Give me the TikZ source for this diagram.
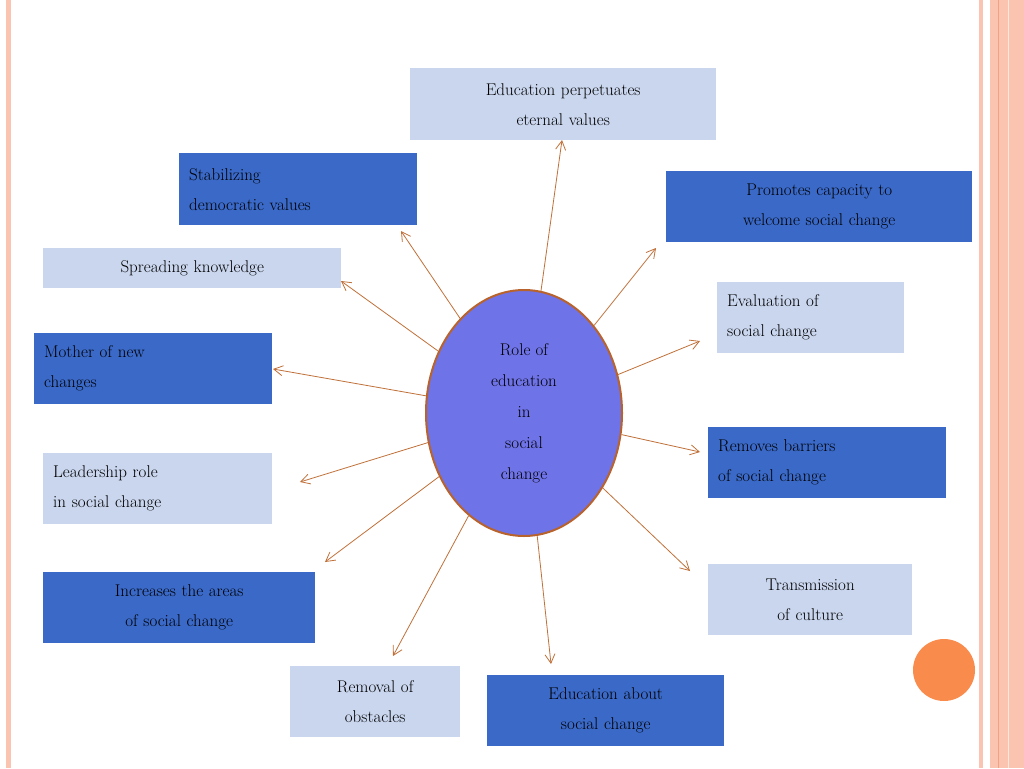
\documentclass[tikz,border=0pt]{standalone}
\usetikzlibrary{arrows.meta,shapes.geometric}
\definecolor{lbox}{HTML}{C9D6EE}
\definecolor{dbox}{HTML}{3A69C8}
\definecolor{ellf}{HTML}{6F73E8}
\definecolor{elld}{HTML}{B8622C}
\definecolor{arr}{HTML}{C0713A}
\definecolor{strip}{HTML}{FBC4B0}
\definecolor{stripd}{HTML}{F4A27E}
\definecolor{dot}{HTML}{F98C4C}
\tikzset{
  bx/.style n args={4}{inner xsep=10pt,inner ysep=0pt,text width=#3-20pt,minimum height=#4,anchor=north west,font=\fontsize{17}{30}\selectfont},
  lt/.style={fill=lbox},
  dk/.style={fill=dbox},
  conn/.style={draw=arr,line width=0.8pt,-{Straight Barb[length=9pt,width=10pt,line width=0.8pt]}},
}
\begin{document}
\begin{tikzpicture}[x=1pt,y=-1pt]
\useasboundingbox (0,0) rectangle (1024,768);
\fill[white] (0,0) rectangle (1024,768);
\fill[strip] (6,0) rectangle (11,768);
\fill[strip] (979,0) rectangle (983,768);
\fill[strip] (990,0) rectangle (1024,768);
\draw[stripd,line width=0.8pt] (998,0) -- (998,768);
\draw[white!60!strip,line width=0.8pt] (1008,0) -- (1008,768);
\node[ellipse,draw=elld,fill=ellf,line width=2pt,minimum width=196pt,minimum height=246pt,align=center,font=\fontsize{17}{31}\selectfont,inner sep=0pt] (c) at (524,413) {Role of\\education\\in\\social\\change};
\node[bx={}{}{306pt}{72pt},lt,align=center] (b1) at (410,68) {Education perpetuates\\eternal values};
\node[bx={}{}{238pt}{72pt},dk,align=left] (b2) at (179,153) {Stabilizing\\democratic values};
\node[bx={}{}{306pt}{71pt},dk,align=center] (b3) at (666,171) {Promotes capacity to\\welcome social change};
\node[bx={}{}{298pt}{40pt},lt,align=center] (b4) at (43,248) {Spreading knowledge};
\node[bx={}{}{187pt}{71pt},lt,align=left] (b5) at (717,282) {Evaluation of\\social change};
\node[bx={}{}{238pt}{71pt},dk,align=left] (b6) at (34,333) {Mother of new\\changes};
\node[bx={}{}{238pt}{71pt},dk,align=left] (b7) at (708,427) {Removes barriers\\of social change};
\node[bx={}{}{229pt}{71pt},lt,align=left] (b8) at (43,453) {Leadership role\\in social change};
\node[bx={}{}{204pt}{71pt},lt,align=center] (b9) at (708,564) {Transmission\\of culture};
\node[bx={}{}{272pt}{71pt},dk,align=center] (b10) at (43,572) {Increases the areas\\of social change};
\node[bx={}{}{170pt}{71pt},lt,align=center] (b11) at (290,666) {Removal of\\obstacles};
\node[bx={}{}{237pt}{71pt},dk,align=center] (b12) at (487,675) {Education about\\social change};
\fill[dot] (944,670) circle (31);
\coordinate (e1) at (562,140);
\coordinate (e2) at (401,231);
\coordinate (e3) at (656,248);
\coordinate (e4) at (341,281);
\coordinate (e5) at (700,341);
\coordinate (e6) at (273,369);
\coordinate (e7) at (700,452);
\coordinate (e8) at (300,482);
\coordinate (e9) at (690,571);
\coordinate (e10) at (325,562);
\coordinate (e11) at (393,656);
\coordinate (e12) at (551,664);
\foreach \i in {1,...,12} \draw[conn] (c) -- (e\i);
\end{tikzpicture}
\end{document}
